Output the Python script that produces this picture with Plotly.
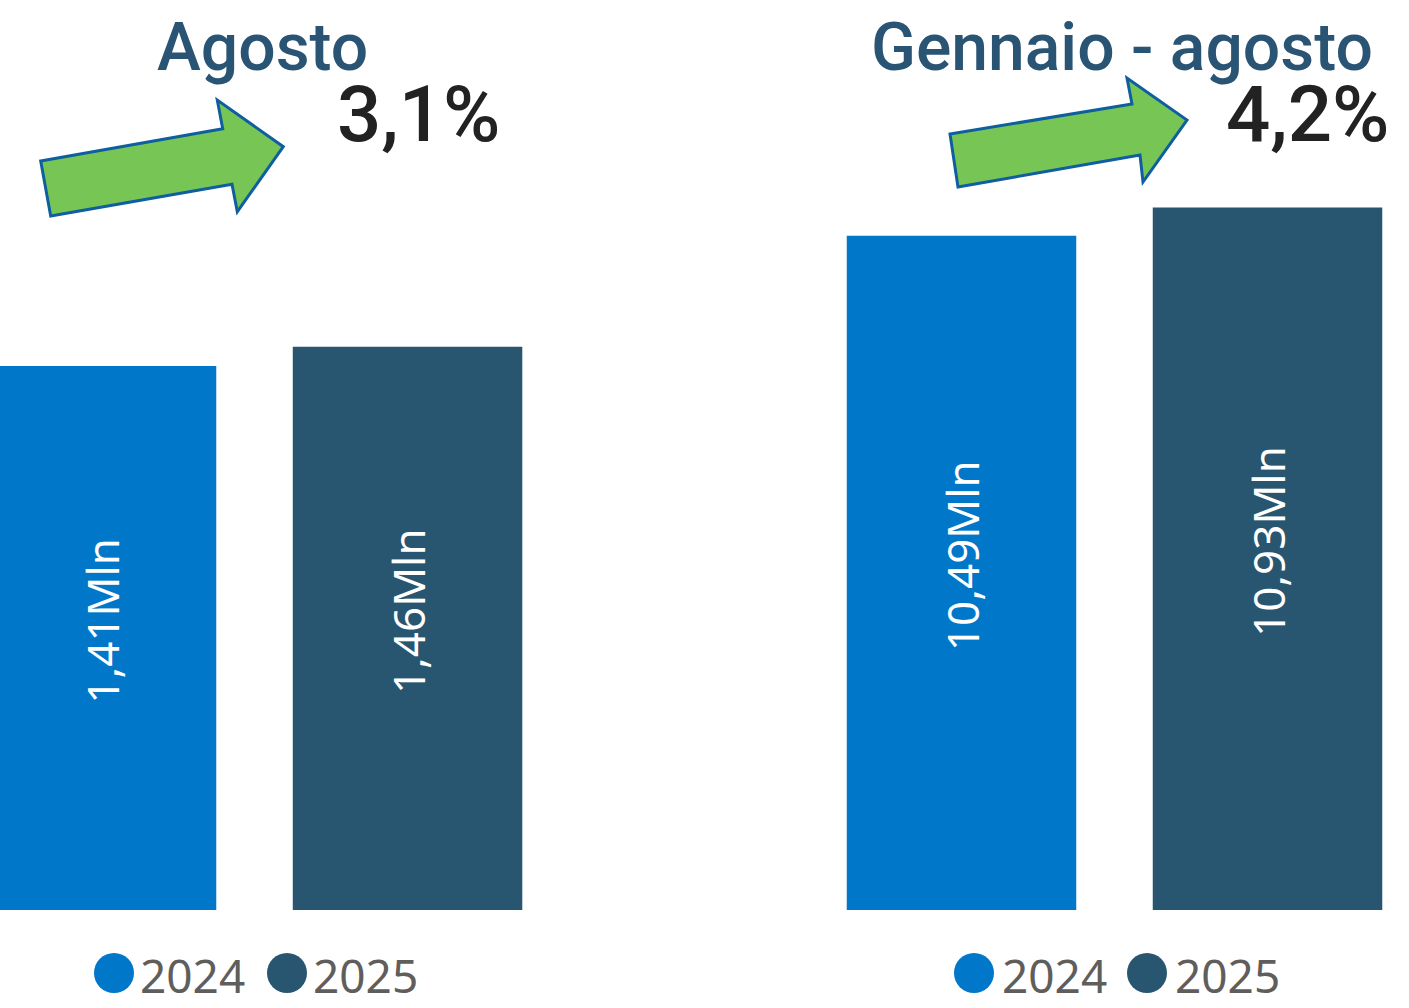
import plotly.graph_objects as go

W, H = 1409, 1008

years = ["2024", "2025"]
colors = ["#0077C8", "#28556F"]
agosto_vals = [1.41, 1.46]
agosto_labels = ["1,41Mln", "1,46Mln"]
ytd_vals = [10.49, 10.93]
ytd_labels = ["10,49Mln", "10,93Mln"]
panel_titles = ["Agosto", "Gennaio - agosto"]
panel_growth = ["3,1%", "4,2%"]

title_color = "#2A5474"
label_font = "Segoe UI, Noto Sans, Open Sans, sans-serif"
head_font = "Roboto, DejaVu Sans, sans-serif"
# a few leading nbsp lift the rotated label a little above the bar centre
pad = "\u00a0" * 3


def px(x, y):
    # pixel -> paper (margins are zero, so paper = whole page)
    return x / W, 1 - y / H


fig = go.Figure()

panels = [
    (agosto_vals, agosto_labels, "x", "y"),
    (ytd_vals, ytd_labels, "x2", "y2"),
]
for vals, labels, xa, ya in panels:
    for yr, v, c, lab in zip(years, vals, colors, labels):
        fig.add_trace(go.Bar(
            x=[yr], y=[v], marker=dict(color=c, line=dict(width=0)),
            width=0.75, xaxis=xa, yaxis=ya, showlegend=False,
            text=[pad + lab], textposition="inside", insidetextanchor="middle",
            textangle=-90, constraintext="none",
            textfont=dict(family=label_font, size=44, color="white"),
            hoverinfo="skip",
        ))

plot_bottom = 1 - 910 / H
axis_off = dict(showgrid=False, zeroline=False, showticklabels=False,
                showline=False, fixedrange=True)
fig.update_layout(
    width=W, height=H,
    margin=dict(l=0, r=0, t=0, b=0),
    paper_bgcolor="white", plot_bgcolor="white",
    showlegend=False,
    xaxis=dict(domain=[0, 0.4], range=[-0.3317, 1.51], type="category",
               **axis_off),
    yaxis=dict(domain=[plot_bottom, 1], range=[0, 2.359], **axis_off),
    xaxis2=dict(domain=[0.6, 1], range=[-0.3794, 1.4624], type="category",
                **axis_off),
    yaxis2=dict(domain=[plot_bottom, 1], range=[0, 14.157], anchor="x2",
                **axis_off),
)

# titles and growth figures
title_pos = [(262, 47), (1122, 47)]
growth_pos = [(419, 114), (1308, 114)]
for t, (tx, ty), g, (gx, gy) in zip(panel_titles, title_pos, panel_growth, growth_pos):
    x, y = px(tx, ty)
    fig.add_annotation(x=x, y=y, xref="paper", yref="paper", text=t,
                       showarrow=False, xanchor="center", yanchor="middle",
                       font=dict(family=head_font, size=66, color=title_color,
                                 weight=500))
    x, y = px(gx, gy)
    fig.add_annotation(x=x, y=y, xref="paper", yref="paper", text=g,
                       showarrow=False, xanchor="center", yanchor="middle",
                       font=dict(family=head_font, size=78, color="#222222",
                                 weight=500))

# green arrows
arrows = [
    [(50.7, 216), (40.7, 161), (222.7, 128.7), (217.3, 100), (283.3, 146.7),
     (237.3, 211.7), (232, 184.3)],
    [(958, 187), (950, 134), (1132, 104), (1127, 78), (1187, 120),
     (1143, 182), (1140, 155)],
]
for pts in arrows:
    path = ""
    for i, (ax, ay) in enumerate(pts):
        x, y = px(ax, ay)
        path += ("M" if i == 0 else "L") + f"{x:.5f},{y:.5f} "
    path += "Z"
    fig.add_shape(type="path", path=path, xref="paper", yref="paper",
                  fillcolor="#77C655", line=dict(color="#0F5E9F", width=3))

# legends (big circles + years) below each panel
legend_items = [
    [(114, 140), (287, 313)],
    [(974, 1002), (1147, 1175)],
]
for items in legend_items:
    for (cx, tx), yr, c in zip(items, years, colors):
        r = 20
        x0, y0 = px(cx - r, 973 + r)
        x1, y1 = px(cx + r, 973 - r)
        fig.add_shape(type="circle", xref="paper", yref="paper",
                      x0=x0, y0=y0, x1=x1, y1=y1,
                      fillcolor=c, line=dict(width=0))
        x, y = px(tx - 2, 975)
        fig.add_annotation(x=x, y=y, xref="paper", yref="paper", text=yr,
                           showarrow=False, xanchor="left", yanchor="middle",
                           font=dict(family=label_font, size=46, color="#605E5C"))

fig.write_html("out.html", config={"displayModeBar": False},
               post_script="document.body.style.margin='0';")
